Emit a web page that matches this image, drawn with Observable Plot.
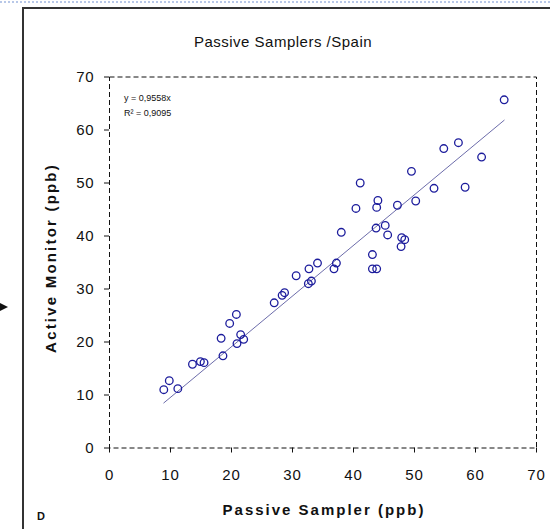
<!DOCTYPE html>
<html>
<head>
<meta charset="utf-8">
<script src="https://cdn.jsdelivr.net/npm/d3@7"></script>
<script src="https://cdn.jsdelivr.net/npm/@observablehq/plot@0.6"></script>
<style>
  html, body { margin: 0; padding: 0; background: #fff; }
  #chart { position: relative; width: 550px; height: 529px; overflow: hidden; }
  svg { font-family: Arial, "Liberation Sans", sans-serif; }
</style>
</head>
<body>
<div id="chart"></div>
<script>
// Passive sampler (x) vs active monitor (y), ppb
const passive = [8.9, 9.8, 11.2, 13.6, 14.9, 15.5, 18.3, 18.6, 19.7, 20.8, 20.9, 21.5, 22.0,
  27.0, 28.3, 28.7, 30.6, 32.6, 33.1, 32.7, 34.1, 36.8, 37.2, 38.0, 40.4, 41.1,
  43.1, 43.1, 43.8, 43.7, 43.8, 44.0, 45.2, 45.6, 47.2, 47.8, 47.9, 48.4, 49.5,
  50.2, 53.2, 54.8, 57.2, 58.3, 61.0, 64.7];
const active = [11.0, 12.7, 11.2, 15.8, 16.3, 16.1, 20.7, 17.4, 23.5, 25.2, 19.7, 21.4, 20.5,
  27.4, 28.8, 29.3, 32.5, 31.0, 31.5, 33.8, 34.9, 33.8, 34.9, 40.7, 45.2, 50.0,
  36.5, 33.8, 33.8, 41.5, 45.4, 46.7, 42.0, 40.2, 45.8, 38.0, 39.7, 39.3, 52.2,
  46.6, 49.0, 56.5, 57.6, 49.2, 54.9, 65.7];
const slope = 0.9558;
const xTicks = [0, 10, 20, 30, 40, 50, 60, 70];
const yTicks = [0, 10, 20, 30, 40, 50, 60, 70];
const titleText = "Passive Samplers /Spain";
const xLabel = "Passive Sampler (ppb)";
const yLabel = "Active Monitor (ppb)";
const eqText = "y = 0,9558x";
const r2Text = "R² = 0,9095";

const points = passive.map((x, i) => ({x, y: active[i]}));
const xMin = d3.min(passive), xMax = d3.max(passive);
const fit = [{x: xMin, y: slope * xMin}, {x: xMax, y: slope * xMax}];

const plot = Plot.plot({
  width: 550,
  height: 529,
  marginLeft: 109,
  marginRight: 14,
  marginTop: 76.5,
  marginBottom: 81.5,
  style: {fontFamily: "Arial, 'Liberation Sans', sans-serif", fontSize: "15px", color: "#111", background: "transparent"},
  x: {domain: [0, 70]},
  y: {domain: [0, 70]},
  marks: [
    Plot.frame({stroke: "#111", strokeWidth: 1, strokeDasharray: "5,3"}),
    Plot.axisX({ticks: xTicks, tickSize: 5, tickPadding: 16, label: null, fontSize: 15, stroke: "#111"}),
    Plot.axisY({ticks: yTicks, tickSize: 5, tickPadding: 10, label: null, fontSize: 15, stroke: "#111"}),
    Plot.line(fit, {x: "x", y: "y", stroke: "#6c6caa", strokeWidth: 1}),
    Plot.dot(points, {x: "x", y: "y", r: 3.8, stroke: "#1c1c9c", strokeWidth: 1.3, fill: "none"})
  ]
});

document.getElementById("chart").appendChild(plot);
const svg = d3.select(plot);
svg.selectAll("g[aria-label='x-axis tick label'] text, g[aria-label='y-axis tick label'] text")
  .attr("letter-spacing", 0.8);

// faint blue dotted line at top
svg.append("line").attr("x1", 0).attr("x2", 550).attr("y1", 2).attr("y2", 2)
  .attr("stroke", "#b8c8e8").attr("stroke-width", 2).attr("stroke-dasharray", "2,2");
// outer frame (left and top)
svg.append("path").attr("d", "M23,529V8H550").attr("fill", "none")
  .attr("stroke", "#333").attr("stroke-width", 2);
// small arrow at left edge
svg.append("path").attr("d", "M0,303L8,307L0,311Z").attr("fill", "#111");

svg.append("text").attr("x", 283).attr("y", 47).attr("text-anchor", "middle")
  .attr("font-size", 15).attr("letter-spacing", 0.5).attr("fill", "#111").text(titleText);
svg.append("text").attr("x", 324).attr("y", 515).attr("text-anchor", "middle")
  .attr("font-size", 15).attr("font-weight", "bold").attr("letter-spacing", 2)
  .attr("fill", "#111").text(xLabel);
svg.append("text").attr("transform", "translate(56,258) rotate(-90)").attr("text-anchor", "middle")
  .attr("font-size", 15).attr("font-weight", "bold").attr("letter-spacing", 2.2)
  .attr("fill", "#111").text(yLabel);
svg.append("text").attr("x", 37).attr("y", 520).attr("text-anchor", "start")
  .attr("font-size", 11).attr("font-weight", "bold").attr("fill", "#111").text("D");
svg.append("text").attr("x", 124).attr("y", 101).attr("text-anchor", "start")
  .attr("font-size", 9).attr("fill", "#111").text(eqText);
svg.append("text").attr("x", 124).attr("y", 116).attr("text-anchor", "start")
  .attr("font-size", 9).attr("fill", "#111").text(r2Text);
</script>
</body>
</html>
